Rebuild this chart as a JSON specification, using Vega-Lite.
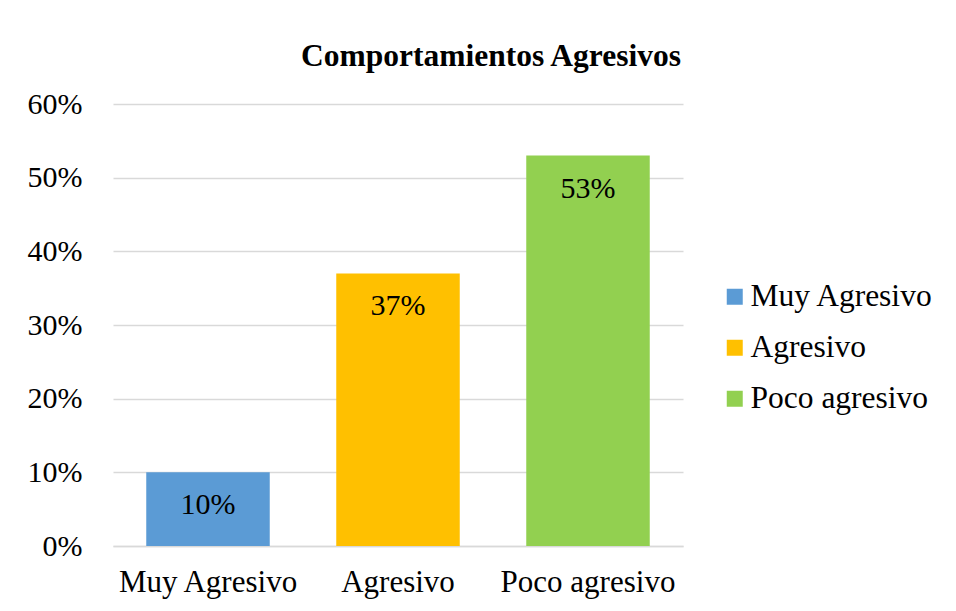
{
  "$schema": "https://vega.github.io/schema/vega-lite/v6.json",
  "width": 570,
  "height": 442,
  "autosize": {"type": "none"},
  "padding": {"left": 113, "top": 104, "right": 273, "bottom": 65},
  "background": "white",
  "title": {
    "text": "Comportamientos Agresivos",
    "font": "Liberation Serif",
    "fontSize": 31.5,
    "fontWeight": "bold",
    "color": "#000000",
    "anchor": "middle",
    "frame": "group",
    "dx": 93,
    "baseline": "alphabetic",
    "offset": -8
  },
  "data": {
    "values": [
      {"categoria": "Muy Agresivo", "porcentaje": 0.10},
      {"categoria": "Agresivo", "porcentaje": 0.37},
      {"categoria": "Poco agresivo", "porcentaje": 0.53}
    ]
  },
  "encoding": {
    "x": {
      "field": "categoria",
      "type": "nominal",
      "sort": ["Muy Agresivo", "Agresivo", "Poco agresivo"],
      "scale": {"paddingInner": 0.35, "paddingOuter": 0.175},
      "axis": {
        "title": null,
        "labelAngle": 0,
        "labelFont": "Liberation Serif",
        "labelFontSize": 31,
        "labelColor": "#000000",
        "labelPadding": 21,
        "ticks": false,
        "domainColor": "#d9d9d9",
        "domainWidth": 1.5
      }
    },
    "y": {
      "field": "porcentaje",
      "type": "quantitative",
      "scale": {"domain": [0, 0.6], "nice": false},
      "axis": {
        "title": null,
        "format": ".0%",
        "values": [0, 0.1, 0.2, 0.3, 0.4, 0.5, 0.6],
        "labelFont": "Liberation Serif",
        "labelFontSize": 30,
        "labelColor": "#000000",
        "labelPadding": 31,
        "ticks": false,
        "domain": false,
        "gridColor": "#d9d9d9",
        "gridWidth": 1.5
      }
    }
  },
  "layer": [
    {
      "mark": {"type": "bar"},
      "encoding": {
        "color": {
          "field": "categoria",
          "type": "nominal",
          "sort": ["Muy Agresivo", "Agresivo", "Poco agresivo"],
          "scale": {
            "domain": ["Muy Agresivo", "Agresivo", "Poco agresivo"],
            "range": ["#5B9BD5", "#FFC000", "#92D050"]
          },
          "legend": {
            "title": null,
            "orient": "none",
            "legendX": 606,
            "legendY": 177,
            "symbolType": "square",
            "symbolSize": 256,
            "symbolStrokeWidth": 0,
            "symbolOpacity": 1,
            "labelFont": "Liberation Serif",
            "labelFontSize": 31.5,
            "labelColor": "#000000",
            "labelOffset": 0,
            "rowPadding": 18,
            "labelLimit": 300
          }
        }
      }
    },
    {
      "mark": {
        "type": "text",
        "baseline": "alphabetic",
        "dy": 42,
        "font": "Liberation Serif",
        "fontSize": 30,
        "color": "#000000"
      },
      "encoding": {
        "text": {"field": "porcentaje", "type": "quantitative", "format": ".0%"}
      }
    }
  ],
  "config": {
    "view": {"stroke": null}
  }
}
